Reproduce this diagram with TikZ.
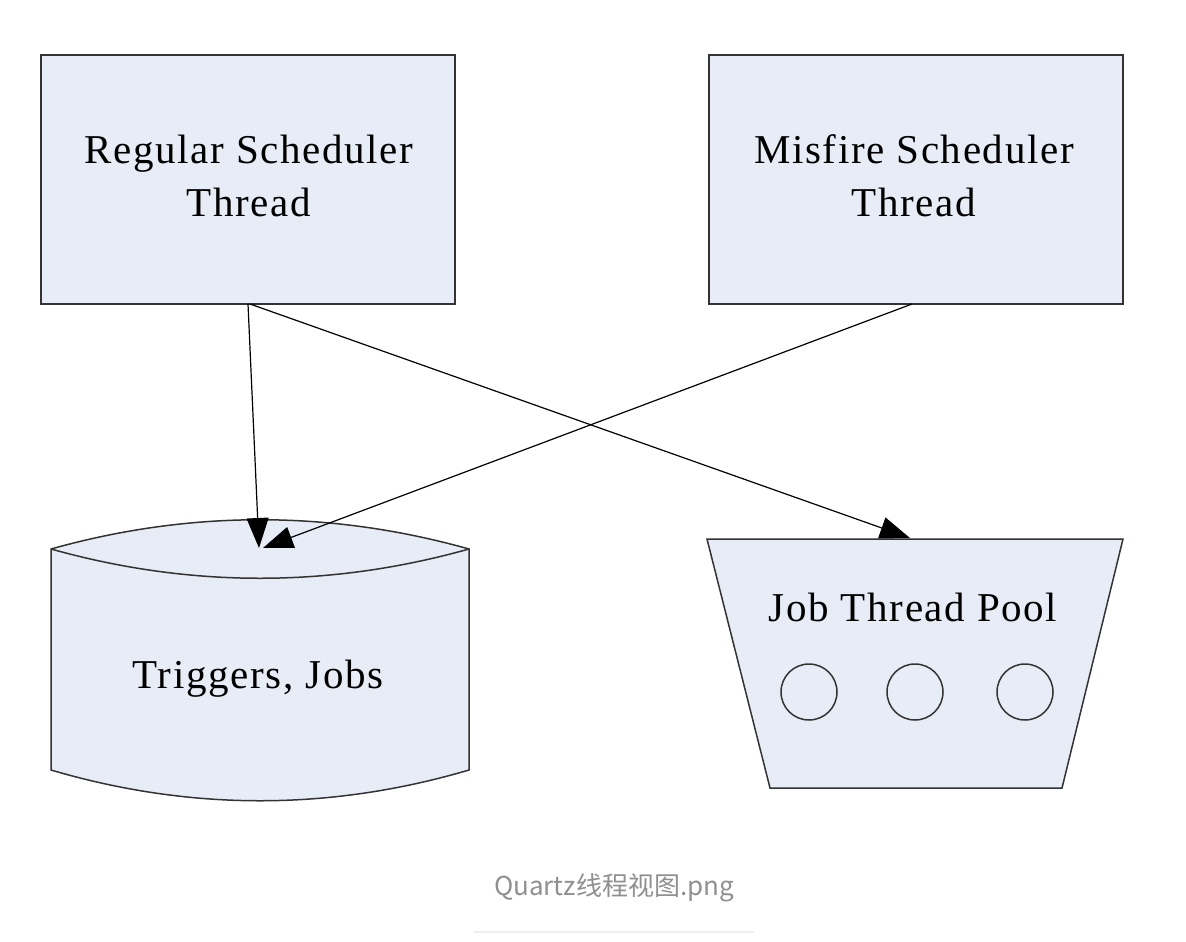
\documentclass[tikz,border=0pt]{standalone}
\usepackage{fontspec}
\setmainfont{Liberation Serif}
\newfontfamily\capfont{Noto Sans CJK SC}
\usetikzlibrary{arrows.meta}
\definecolor{boxfill}{HTML}{E8ECF6}
\definecolor{edge}{HTML}{333333}
\definecolor{capgrey}{HTML}{909090}
\definecolor{rulegrey}{HTML}{EEEEEE}
\tikzset{
  thread/.style={draw=edge, fill=boxfill, line width=1.5pt, minimum width=414pt, minimum height=249pt, inner sep=0pt},
  lbl/.style={font=\fontsize{41}{53}\selectfont\addfontfeatures{LetterSpace=4}, align=center, text=black, inner sep=0pt},
  conn/.style={draw=black, line width=1.2pt, -{Triangle[length=30pt,width=22pt]}},
  shapeline/.style={draw=edge, fill=boxfill, line width=1.5pt},
  worker/.style={circle, draw=edge, line width=1.5pt, minimum size=56pt, inner sep=0pt}
}
\begin{document}
\begin{tikzpicture}[x=1pt,y=-1pt]
\useasboundingbox[fill=white] (0,0) rectangle (1186,942);
% scheduler threads
\node[thread] (reg) at (248,179.5) {};
\node[lbl] (regt) at (249,176) {Regular Scheduler\\Thread};
\node[thread] (mis) at (916,179.5) {};
\node[lbl] (mist) at (914,176) {Misfire Scheduler\\Thread};
% store (cylinder-like)
\path[shapeline] (51,549) .. controls (190,510) and (330,510) .. (469,549)
  -- (469,770) .. controls (330,811) and (190,811) .. (51,770) -- cycle;
\draw[edge, line width=1.5pt] (51,549) .. controls (190,588) and (330,588) .. (469,549);
\node[lbl] (store) at (258,679) {Triggers, Jobs};
% job thread pool
\path[shapeline] (707,539) -- (1123,539) -- (1062,788) -- (770,788) -- cycle;
\node[lbl] (pool) at (913,607) {Job Thread Pool};
\node[worker] (w1) at (809,692) {};
\node[worker] (w2) at (915,692) {};
\node[worker] (w3) at (1025,692) {};
% connector end points
\coordinate (regA) at (248,304);
\coordinate (regB) at (250,304);
\coordinate (misA) at (912,304);
\coordinate (storeA) at (259,548);
\coordinate (storeB) at (263,548);
\coordinate (poolA) at (910,538);
\draw[conn] (regA) -- (storeA);
\draw[conn] (misA) -- (storeB);
\draw[conn] (regB) -- (poolA);
% caption
\node[font=\capfont\fontsize{26}{30}\selectfont, text=capgrey, inner sep=0pt] (cap) at (614,888) {Quartz线程视图.png};
\draw[rulegrey, line width=1.5pt] (474,932) coordinate (ruleL) -- (754,932) coordinate (ruleR);
\end{tikzpicture}
\end{document}
